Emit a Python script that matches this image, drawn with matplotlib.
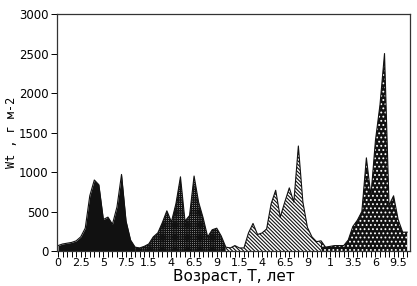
import numpy as np
import matplotlib
matplotlib.use("Agg")
import matplotlib.pyplot as plt

# biomass Wt (g m-2) by age, four stands joined one after another
seg1 = [70, 90, 100, 110, 130, 180, 290, 700, 900, 840, 400, 430, 340, 560, 970, 380, 140]
seg2 = [50, 40, 60, 90, 180, 230, 360, 510, 370, 600, 940, 380, 450, 950, 620, 420, 180, 270, 290, 190]
seg3 = [50, 40, 70, 40, 40, 230, 350, 210, 230, 280, 600, 770, 430, 620, 800, 620, 1330, 620, 300, 180, 120]
seg4 = [130, 50, 60, 70, 70, 70, 140, 310, 390, 500, 1180, 700, 1400, 1850, 2500, 580, 700, 400, 240, 240]

tick_labels = ["0", "2.5", "5", "7.5", "1.5", "4", "6.5", "9",
               "1.5", "4", "6.5", "9", "1", "3.5", "6", "9.5"]

segments = [seg1, seg2, seg3, seg4]
values = np.concatenate(segments)
x = np.arange(len(values))

plt.rcParams["hatch.linewidth"] = 0.8

fig = plt.figure(figsize=(4.17, 2.86), dpi=100)
ax = fig.add_axes([0.137, 0.122, 0.846, 0.829])

styles = [
    dict(facecolor="#111111", edgecolor="#111111", hatch=None),
    dict(facecolor="white", edgecolor="#111111", hatch="+" * 9),
    dict(facecolor="white", edgecolor="#111111", hatch="\\" * 9),
    dict(facecolor="#111111", edgecolor="white", hatch="...."),
]

start = 0
for seg, st in zip(segments, styles):
    end = min(start + len(seg), len(values) - 1)
    xs = x[start:end + 1]
    ys = values[start:end + 1]
    ax.fill_between(xs, 0, ys, facecolor=st["facecolor"], edgecolor=st["edgecolor"],
                    hatch=st["hatch"], linewidth=0)
    start += len(seg)

ax.plot(x, values, color="#111111", lw=0.8)

ax.set_xlim(-0.2, 77.6)
ax.set_ylim(0, 3000)
ax.set_yticks(range(0, 3001, 500))
ax.set_xticks(np.arange(0, 76, 5))
ax.set_xticklabels(tick_labels, fontsize=8)
ax.set_xticks(x, minor=True)
ax.tick_params(axis="x", which="both", direction="out", length=4, width=0.7, pad=1)
ax.tick_params(axis="y", direction="out", length=4, width=0.7, labelsize=8.5, pad=2)
for s in ax.spines.values():
    s.set_linewidth(0.9)
    s.set_color("#333333")

ax.set_xlabel("Возраст, T, лет", fontsize=11, labelpad=1)
ax.set_ylabel("Wt , г м-2", fontsize=8.5, family="DejaVu Sans Mono", labelpad=1)

fig.savefig("out.png", dpi=100)
